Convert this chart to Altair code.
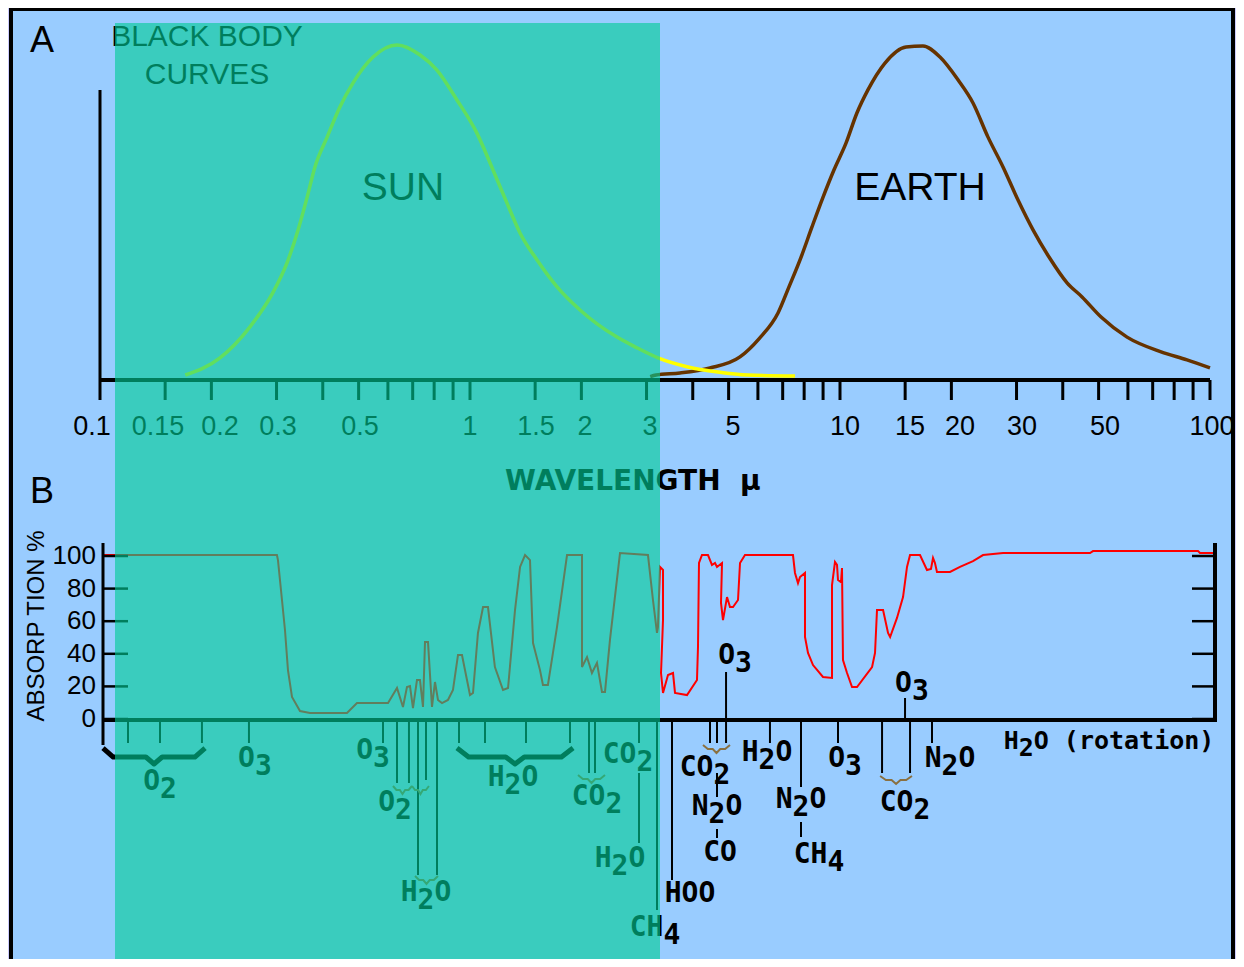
import math
import altair as alt
import pandas as pd

# ---------------- data ----------------
# Panel A: black body curves, wavelength (micron) vs relative intensity (peak = 100)
sun_wl = [0.170, 0.211, 0.254, 0.293, 0.320, 0.343, 0.363, 0.381, 0.411, 0.445,
          0.483, 0.547, 0.635, 0.733, 0.814, 0.922, 1.044, 1.154, 1.259, 1.365,
          1.518, 1.719, 1.983, 2.496, 2.792, 3.222, 3.883, 4.68, 5.64, 7.56]
sun_int = [1.5, 6.6, 15.8, 26.0, 34.9, 44.8, 54.6, 63.6, 72.5, 81.5,
           88.7, 96.4, 100, 97.0, 92.5, 83.6, 73.7, 62.7, 52.8, 43.9,
           35.8, 27.8, 20.9, 12.8, 9.9, 6.6, 3.9, 2.4, 1.5, 1.2]

earth_wl = [3.07, 3.182, 3.695, 4.452, 5.366, 6.04, 6.80, 7.28, 7.85, 8.40,
            9.00, 9.63, 10.38, 11.11, 11.90, 13.23, 15.08, 16.76, 18.63, 20.84,
            22.88, 25.12, 27.58, 30.28, 33.24, 36.72, 41.08, 45.10, 50.77, 59.68,
            73.74, 86.67, 100]
earth_int = [1.0, 1.5, 2.1, 3.6, 6.9, 12.3, 20.0, 27.8, 36.7, 45.7,
             54.6, 62.7, 70.7, 79.7, 86.6, 94.6, 99.4, 99.7, 96.4, 89.6,
             82.7, 72.5, 63.6, 53.7, 44.8, 36.7, 29.0, 24.8, 18.8, 12.8,
             8.4, 6.0, 3.6]

# Panel B: atmospheric absorption (%)
abs_wl = [0.1, 0.2946, 0.2965, 0.304, 0.3097, 0.3155, 0.3235, 0.34, 0.3618, 0.4552,
          0.4844, 0.5874, 0.6211, 0.6446, 0.6608, 0.6733, 0.6859, 0.7032, 0.7164, 0.73,
          0.7391, 0.753, 0.7719, 0.7864, 0.8012, 0.8215, 0.8524, 0.8794, 0.9073, 0.93,
          0.9775, 0.9959, 1.027, 1.06, 1.093, 1.141, 1.2, 1.238, 1.293, 1.334,
          1.376, 1.419, 1.446, 1.51, 1.538, 1.586, 1.678, 1.786, 1.96, 1.96,
          2.022, 2.085, 2.151, 2.219, 2.261, 2.332, 2.482, 2.953, 3.046, 3.123,
          3.142, 3.182, 3.242, 3.242, 3.202, 3.242, 3.344, 3.45, 3.493, 3.763,
          4.004, 4.029, 4.054, 4.13, 4.287, 4.395, 4.478, 4.534, 4.677, 4.648,
          4.706, 4.825, 4.915, 5.008, 5.166, 5.231, 5.395, 7.269, 7.36, 7.499,
          7.593, 7.832, 7.832, 7.98, 8.232, 8.758, 9.263, 9.263, 9.436, 9.555,
          9.614, 9.795, 9.856, 9.917, 10.17, 10.49, 10.82, 11.88, 12.1, 12.25,
          12.72, 13.12, 13.29, 13.87, 14.4, 14.76, 15.04, 16.0, 16.71, 17.13,
          17.35, 17.56, 17.78, 19.28, 20.51, 22.24, 23.67, 26.8, 46.0, 46.87,
          89.99, 91.1, 98.76]
abs_pct = [100.6, 100.6, 97.5, 73, 54.6, 30, 13.5, 4.9, 3.7, 3.7,
           9.8, 9.8, 19, 7.4, 19.6, 20.2, 6.7, 23.9, 23.9, 7.4,
           47.2, 47.2, 7.4, 22.7, 11.7, 9.8, 11.7, 17.8, 39.3, 39.3,
           14.7, 16, 52.8, 68.7, 68.7, 31.9, 17.8, 19, 66.9, 93.3,
           100.6, 97.5, 46.6, 30, 20.9, 20.9, 56.4, 100.6, 100.6, 31.9,
           38, 28.2, 34.4, 16.6, 16.6, 48.5, 101.8, 100.6, 73, 52.8,
           56.4, 93.3, 91.4, 60.7, 28.2, 16, 27, 28.2, 16, 14.7,
           23.9, 44.2, 95.7, 100.6, 100.6, 94.5, 95.7, 93.3, 95.7, 71.2,
           60.7, 74.8, 68.7, 68.7, 73, 95.7, 100.6, 100.6, 89.6, 83.4,
           87.1, 89.6, 50.3, 40.5, 33.1, 25.8, 25.2, 82.2, 96.3, 94.5,
           85.3, 84, 92.6, 36.2, 28.2, 19.6, 19.6, 31.9, 40.5, 66.9,
           66.9, 52.8, 50.3, 62, 74.8, 93.3, 100.6, 100.6, 91.4, 92,
           98.8, 95.7, 90.2, 90.2, 93.3, 96.9, 100.6, 101.8, 101.8, 103,
           103, 101.8, 101.8]

# axis ticks / labels
a_ticks = [0.15, 0.2, 0.3, 0.4, 0.5, 0.6, 0.7, 0.8, 0.9, 1, 1.5, 2, 3, 4, 5, 6, 7, 8, 9,
           10, 15, 20, 30, 40, 50, 60, 70, 80, 90, 100]
a_label_txt = ["0.1", "0.15", "0.2", "0.3", "0.5", "1", "1.5", "2", "3", "5",
               "10", "15", "20", "30", "50", "100"]
# where each label's centre sits on the wavelength axis (as drawn)
a_label_pos = [0.0951, 0.1435, 0.2111, 0.3027, 0.5043, 1.0, 1.508, 2.046, 3.066, 5.138,
               10.31, 15.46, 21.11, 31.04, 52.03, 101.3]
b_ticks = [0, 20, 40, 60, 80, 100]

# absorbing gases: marker lines (wavelength; extent in px below the B axis)
mol_line_wl = [0.1168, 0.1425, 0.1849, 0.2476, 0.5694, 0.6211, 0.6690, 0.7076, 0.7437, 0.7963,
               0.9129, 1.073, 1.384, 1.819, 2.047, 2.125, 2.793, 2.793, 3.123, 3.428,
               4.341, 4.534, 4.534, 4.534, 4.796, 4.796, 6.30, 7.640, 7.640, 9.614,
               12.64, 15.04, 14.58, 17.24]
mol_line_d1 = [2, 2, 2, 2, 2, 2, 2, 2, 2, 2,
               2, 2, 2, 2, 2, 2, 2, 53, 2, 2,
               2, 2, 53, 109, 2, -48, 2, 2, 102, 2,
               2, 2, -22, 2]
mol_line_d2 = [23, 23, 23, 23, 23, 63, 63, 155, 60, 155,
               23, 23, 23, 23, 53, 53, 23, 123, 190, 160,
               23, 23, 77, 118, 23, 0, 23, 67, 117, 23,
               53, 53, 0, 23]

# gas labels ("_" marks the following character as subscript)
mol_txt = ["O_2", "O_3", "O_3", "O_2", "H_2O", "H_2O", "CO_2", "CO_2", "H_2O", "CH_4",
           "HOO", "CO_2", "N_2O", "CO", "O_3", "H_2O", "N_2O", "CH_4", "O_3", "O_3",
           "CO_2", "N_2O"]
mol_wl = [0.1425, 0.2570, 0.5352, 0.6136, 0.7437, 1.277, 2.151, 2.609, 2.482, 3.085,
          3.834, 4.208, 4.534, 4.619, 5.070, 6.184, 7.640, 8.544, 10.04, 15.22,
          14.58, 19.28]
mol_d = [62, 39, 31, 83, 173, 58, 77, 35, 139, 208,
         174, 48, 87, 133, -64, 33, 80, 135, 39, -36,
         83, 39]

rot_txt = ["H_2O (rotation)"]
rot_wl = [51.76]
rot_d = [21]

# braces grouping several lines
brace_w1 = [0.1, 0.9016, 0.6058, 0.6818, 0.6946, 1.912, 4.156, 12.49]
brace_w2 = [0.1885, 1.854, 0.6818, 0.7574, 0.8012, 2.261, 4.915, 15.22]
brace_d0 = [28, 28, 66, 66, 156, 55, 25, 56]
brace_big = [True, True, False, False, False, False, False, False]

# ---------------- scales (chart coordinates = page - 8px margin) ----------------
XB_RANGE = [95, 1207]
xA = alt.Scale(type="log", domain=[0.1, 100], range=[92, 1202], nice=False)
yA = alt.Scale(domain=[0, 100], range=[372, 37], nice=False, zero=False)
xB = alt.Scale(type="log", domain=[0.1, 100], range=XB_RANGE, nice=False)
yB = alt.Scale(domain=[0, 100], range=[711, 548], nice=False, zero=False)
dB = alt.Scale(domain=[0, 100], range=[712, 812], nice=False, zero=False)
PX_PER_DECADE_B = (XB_RANGE[1] - XB_RANGE[0]) / 3.0

BLACK = "#000000"
NB = "\u00a0"
MONO = "DejaVu Sans Mono"
SANS = "Liberation Sans"
W, H = 1228, 951


def one():
    return pd.DataFrame({"k": [0]})


layers = []

# frame / background
layers.append(alt.Chart(one()).mark_rect(fill="#99CCFF", stroke=BLACK, strokeWidth=4).encode(
    x=alt.value(3), x2=alt.value(W - 3), y=alt.value(1), y2=alt.value(1100)))

# ---------- Panel A ----------
sun_df = pd.DataFrame({"wl": sun_wl, "v": sun_int, "i": range(len(sun_wl))})
earth_df = pd.DataFrame({"wl": earth_wl, "v": earth_int, "i": range(len(earth_wl))})

layers.append(alt.Chart(earth_df).mark_line(color="#663300", strokeWidth=3.5,
                                            interpolate="monotone").encode(
    x=alt.X("wl:Q", scale=xA, axis=None), y=alt.Y("v:Q", scale=yA, axis=None),
    order=alt.Order("i:Q")))
layers.append(alt.Chart(sun_df).mark_line(color="#FFFF00", strokeWidth=3.5,
                                          interpolate="monotone").encode(
    x=alt.X("wl:Q", scale=xA, axis=None), y=alt.Y("v:Q", scale=yA, axis=None),
    order=alt.Order("i:Q")))

# axis A
layers.append(alt.Chart(pd.DataFrame({"a": [0.1], "b": [100]})).mark_rule(
    color=BLACK, strokeWidth=4).encode(
    x=alt.X("a:Q", scale=xA, axis=None), x2="b:Q", y=alt.value(372)))
layers.append(alt.Chart(pd.DataFrame({"a": [0.1]})).mark_rule(
    color=BLACK, strokeWidth=3).encode(
    x=alt.X("a:Q", scale=xA, axis=None), y=alt.value(82), y2=alt.value(392)))
layers.append(alt.Chart(pd.DataFrame({"t": a_ticks})).mark_rule(
    color=BLACK, strokeWidth=3).encode(
    x=alt.X("t:Q", scale=xA, axis=None), y=alt.value(372), y2=alt.value(392)))
layers.append(alt.Chart(pd.DataFrame({"t": a_label_pos, "lab": a_label_txt})).mark_text(
    font=SANS, fontSize=27, color=BLACK, align="center", baseline="middle").encode(
    x=alt.X("t:Q", scale=xA, axis=None), y=alt.value(419), text="lab:N"))


def label(txt, x, y, size, font=SANS, weight="normal", align="center", angle=0):
    return alt.Chart(one()).mark_text(
        text=txt, font=font, fontSize=size, fontWeight=weight, color=BLACK,
        align=align, baseline="middle", angle=angle).encode(
        x=alt.value(x), y=alt.value(y))


layers.append(label("A", 34, 33, 36))
layers.append(label("BLACK BODY", 199, 29, 30))
layers.append(label("CURVES", 199, 67, 30))
layers.append(label("SUN", 395, 180, 39))
layers.append(label("EARTH", 912, 180, 39))
layers.append(label("WAVELENGTH" + NB + NB + "\u03bc", 497, 474, 28,
                    font="DejaVu Sans", weight="bold", align="left"))

# ---------- Panel B ----------
layers.append(label("B", 34, 484, 36))
layers.append(label("ABSORP TION %", 29, 618, 24, angle=270))

abs_df = pd.DataFrame({"wl": abs_wl, "p": abs_pct, "i": range(len(abs_wl))})
layers.append(alt.Chart(abs_df).mark_line(color="#FF0000", strokeWidth=2).encode(
    x=alt.X("wl:Q", scale=xB, axis=None), y=alt.Y("p:Q", scale=yB, axis=None),
    order=alt.Order("i:Q")))

layers.append(alt.Chart(pd.DataFrame({"a": [0.1], "b": [100]})).mark_rule(
    color=BLACK, strokeWidth=4).encode(
    x=alt.X("a:Q", scale=xB, axis=None), x2="b:Q", y=alt.value(712)))
layers.append(alt.Chart(pd.DataFrame({"a": [0.1]})).mark_rule(
    color=BLACK, strokeWidth=3).encode(
    x=alt.X("a:Q", scale=xB, axis=None), y=alt.value(535), y2=alt.value(737)))
layers.append(alt.Chart(pd.DataFrame({"a": [100]})).mark_rule(
    color=BLACK, strokeWidth=4).encode(
    x=alt.X("a:Q", scale=xB, axis=None), y=alt.value(535), y2=alt.value(714)))
tick_df = pd.DataFrame({"v": b_ticks, "lab": [str(v) for v in b_ticks]})
layers.append(alt.Chart(tick_df).mark_rule(color=BLACK, strokeWidth=2.5).encode(
    y=alt.Y("v:Q", scale=yB, axis=None), x=alt.value(95), x2=alt.value(120)))
layers.append(alt.Chart(tick_df).mark_rule(color=BLACK, strokeWidth=2.5).encode(
    y=alt.Y("v:Q", scale=yB, axis=None), x=alt.value(1184), x2=alt.value(1207)))
layers.append(alt.Chart(tick_df).mark_text(
    font=SANS, fontSize=26, color=BLACK, align="right", baseline="middle").encode(
    y=alt.Y("v:Q", scale=yB, axis=None), x=alt.value(88), text="lab:N"))

# marker lines for gases
ml_df = pd.DataFrame({"wl": mol_line_wl, "d1": mol_line_d1, "d2": mol_line_d2})
layers.append(alt.Chart(ml_df).mark_rule(color=BLACK, strokeWidth=2).encode(
    x=alt.X("wl:Q", scale=xB, axis=None), y=alt.Y("d1:Q", scale=dB, axis=None), y2="d2:Q"))

# braces
brace_rows = []
for k, (w1, w2, d0, big) in enumerate(zip(brace_w1, brace_w2, brace_d0, brace_big)):
    l1, l2 = math.log10(w1), math.log10(w2)
    lm, sp = (l1 + l2) / 2, l2 - l1
    if big:
        fe, fc, h1, h2 = 0.10, 0.08, 9, 16
    else:
        fe, fc, h1, h2 = 0.18, 0.14, 4, 8
    xs = [l1, l1 + fe * sp, lm - fc * sp, lm, lm + fc * sp, l2 - fe * sp, l2]
    ds = [0, h1, h1, h2, h1, h1, 0]
    for j, (lv, dv) in enumerate(zip(xs, ds)):
        brace_rows.append({"b": k, "j": j, "wl": 10 ** lv, "d": d0 + dv, "big": big})
br_df = pd.DataFrame(brace_rows)
layers.append(alt.Chart(br_df[br_df["big"]]).mark_line(
    color=BLACK, strokeWidth=5, strokeJoin="round").encode(
    x=alt.X("wl:Q", scale=xB, axis=None), y=alt.Y("d:Q", scale=dB, axis=None),
    detail="b:N", order=alt.Order("j:Q")))
layers.append(alt.Chart(br_df[~br_df["big"]]).mark_line(
    color="#8A7040", strokeWidth=2).encode(
    x=alt.X("wl:Q", scale=xB, axis=None), y=alt.Y("d:Q", scale=dB, axis=None),
    detail="b:N", order=alt.Order("j:Q")))


# gas labels: laid out glyph by glyph (monospace), subscripts lowered
def gas_layer(txts, wls, ds, size, sub_drop=8):
    cw = 0.602 * size
    rows = []
    for t, wl, d in zip(txts, wls, ds):
        chars = []
        i = 0
        while i < len(t):
            if t[i] == "_":
                chars.append((t[i + 1], True))
                i += 2
            else:
                chars.append((t[i], False))
                i += 1
        n = len(chars)
        for k, (c, sub) in enumerate(chars):
            if c == " ":
                continue
            off = (k - (n - 1) / 2.0) * cw
            rows.append({"wl": wl * 10 ** (off / PX_PER_DECADE_B),
                         "d": d + (sub_drop if sub else 0), "c": c})
    df = pd.DataFrame(rows)
    return alt.Chart(df).mark_text(
        font=MONO, fontSize=size, fontWeight="bold", color=BLACK,
        align="center", baseline="middle").encode(
        x=alt.X("wl:Q", scale=xB, axis=None), y=alt.Y("d:Q", scale=dB, axis=None),
        text="c:N")


layers.append(gas_layer(mol_txt, mol_wl, mol_d, 28))
layers.append(gas_layer(rot_txt, rot_wl, rot_d, 25, sub_drop=7))

# translucent teal highlight band drawn over everything
layers.append(alt.Chart(one()).mark_rect(color="#00CB96", opacity=0.62).encode(
    x=alt.value(107), x2=alt.value(652), y=alt.value(15), y2=alt.value(952)))

chart = alt.layer(*layers).resolve_scale(
    x="independent", y="independent"
).properties(
    width=W, height=H, background="#CCCCFF",
    autosize=alt.AutoSizeParams(type="none"), padding=0
).configure_view(strokeWidth=0)

chart.save("out.html", embed_options={"renderer": "svg", "actions": False})
